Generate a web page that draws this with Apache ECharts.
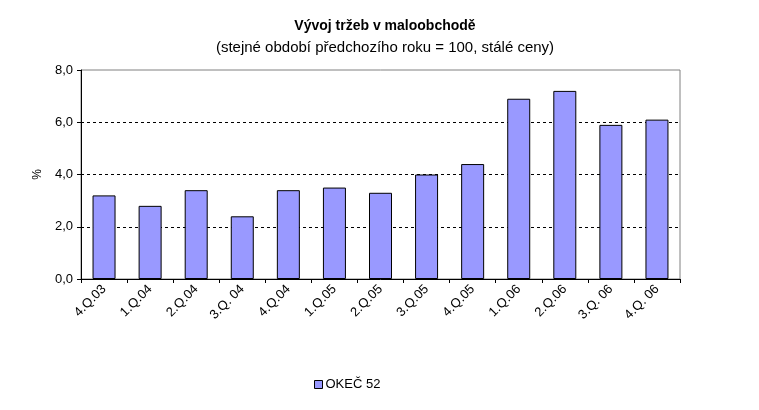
<!DOCTYPE html>
<html><head><meta charset="utf-8">
<script src="https://cdn.jsdelivr.net/npm/echarts@6/dist/echarts.min.js"></script>
<style>html,body{margin:0;padding:0;background:#fff}#c{width:759px;height:410px}</style>
</head><body><div id="c"></div>
<script>
const categories = ['4.Q.03','1.Q.04','2.Q.04','3.Q. 04','4.Q.04','1.Q.05','2.Q.05','3.Q.05','4.Q.05','1.Q.06','2.Q.06','3.Q. 06','4.Q. 06'];
const values = [3.2, 2.8, 3.4, 2.4, 3.4, 3.5, 3.3, 4.0, 4.4, 6.9, 7.2, 5.9, 6.1];
const seriesName = 'OKEČ 52';
const titleText = 'Vývoj tržeb v maloobchodě';
const subtitleText = '(stejné období předchozího roku = 100, stálé ceny)';
const font = 'Liberation Sans, Arial, sans-serif';

const chart = echarts.init(document.getElementById('c'), null, {renderer:'canvas'});
chart.setOption({
  animation: false,
  backgroundColor: '#fff',
  textStyle: {fontFamily: font},
  title: {
    text: titleText, subtext: subtitleText, left: 380, textAlign: 'center', top: 14, itemGap: 7,
    textStyle: {fontFamily: font, fontSize: 14, fontWeight: 'bold', color: '#000'},
    subtextStyle: {fontFamily: font, fontSize: 15, color: '#000'}
  },
  legend: {
    left: 309, top: 373, itemWidth: 8, itemHeight: 8, itemGap: 5, icon: 'rect',
    textStyle: {fontFamily: font, fontSize: 13, color: '#000', padding: [0,0,0,-2]},
    data: [{name: seriesName, itemStyle: {color: '#9999FF', borderColor: '#000', borderWidth: 1}}]
  },
  grid: {left: 81, right: 79, top: 70, bottom: 131, show: true, borderColor: '#808080', borderWidth: 1, containLabel: false},
  xAxis: {
    type: 'category', data: categories, boundaryGap: true,
    axisLine: {lineStyle: {color: '#000', width: 1}},
    axisTick: {show: true, length: 4, lineStyle: {color: '#000'}, alignWithLabel: false},
    axisLabel: {rotate: 45, fontSize: 13, color: '#000', fontFamily: font, margin: 8, interval: 0}
  },
  yAxis: {
    type: 'value', min: 0, max: 8, interval: 2,
    name: '%', nameLocation: 'middle', nameRotate: 90, nameGap: 37,
    nameTextStyle: {fontSize: 12, color: '#000', fontFamily: font},
    axisLine: {show: true, lineStyle: {color: '#000', width: 1}},
    axisTick: {show: true, length: 4, lineStyle: {color: '#000'}},
    axisLabel: {fontSize: 13, color: '#000', fontFamily: font, margin: 8,
      formatter: v => v.toFixed(1).replace('.', ',')},
    splitLine: {show: true, showMaxLine: false, showMinLine: false, lineStyle: {color: '#000', type: [3,3], width: 1}}
  },
  series: [{
    name: seriesName, type: 'bar', data: values, barWidth: 23,
    itemStyle: {color: '#9999FF', borderColor: '#000', borderWidth: 1}
  }]
});
</script></body></html>
